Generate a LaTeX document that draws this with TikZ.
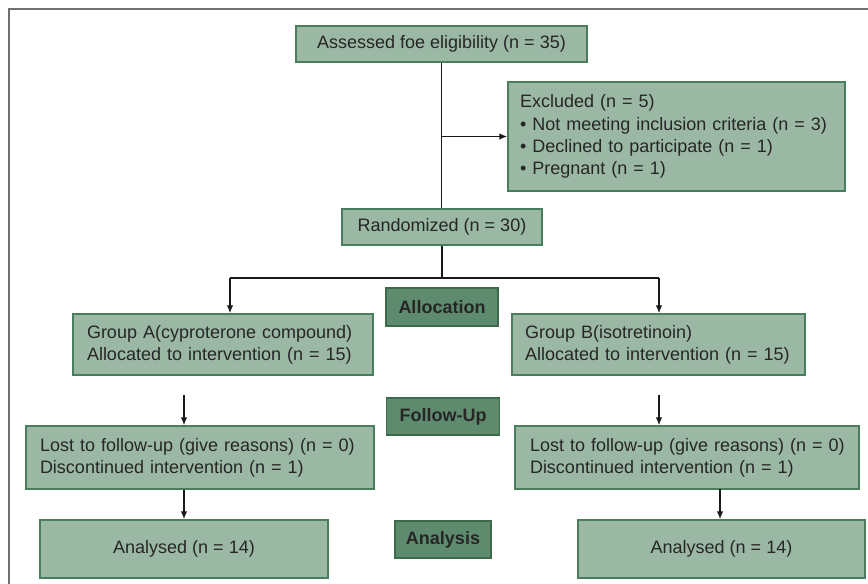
\documentclass[tikz,border=0pt]{standalone}
\usepackage{fontspec}
\setmainfont{Liberation Sans}
\usetikzlibrary{arrows.meta}
\definecolor{boxfill}{HTML}{9BB8A5}
\definecolor{boxline}{HTML}{4A7D5B}
\definecolor{labfill}{HTML}{5E8B6E}
\definecolor{labline}{HTML}{3C6A4B}
\definecolor{frame}{HTML}{707070}
\tikzset{
  box/.style={draw=boxline, fill=boxfill, line width=1.2pt, inner sep=0pt,
    font=\fontsize{18}{22.3}\selectfont, text=black!85},
  lbox/.style={box, align=left},
  cbox/.style={box, align=center},
  stage/.style={draw=labline, fill=labfill, line width=1.2pt, inner sep=0pt,
    font=\fontsize{18}{22}\selectfont\bfseries, text=black!85},
  conn/.style={line width=1.8pt, black!90},
  arr/.style={conn, -{Latex[length=8pt,width=6.5pt]}},
}
\begin{document}
\begin{tikzpicture}[x=1pt,y=-1pt]
\useasboundingbox (0,0) rectangle (868,584);
\draw[frame, line width=2pt] (9,584) -- (9,9) -- (868,9);

\node[cbox, minimum width=291pt, minimum height=36pt] (assess) at (441.5,44) {Assessed foe eligibility (n = 35)};
\node[lbox, minimum width=337pt, minimum height=109pt, text width=313pt] (excl) at (676.5,136.5)
  {Excluded (n = 5)\\ • Not meeting inclusion criteria (n = 3)\\ • Declined to participate (n = 1)\\ • Pregnant (n = 1)};
\node[cbox, minimum width=200pt, minimum height=36pt] (rand) at (442,227) {Randomized (n = 30)};
\node[stage, minimum width=112pt, minimum height=38pt] (alloc) at (442,307) {Allocation};
\node[lbox, minimum width=300pt, minimum height=61pt, text width=272pt] (grpA) at (223,344.5)
  {Group A(cyproterone compound)\\ Allocated to intervention (n = 15)};
\node[lbox, minimum width=293pt, minimum height=61pt, text width=267pt] (grpB) at (658.5,344.5)
  {Group B(isotretinoin)\\ Allocated to intervention (n = 15)};
\node[stage, minimum width=113pt, minimum height=37pt] (follow) at (443,416.5) {Follow-Up};
\node[lbox, minimum width=348pt, minimum height=63pt, text width=320pt] (lostA) at (200,457.5)
  {\mbox{Lost to follow-up (give reasons) (n = 0)}\\ \mbox{Discontinued intervention (n = 1)}};
\node[lbox, minimum width=344pt, minimum height=63pt, text width=314pt] (lostB) at (687,457.5)
  {\mbox{Lost to follow-up (give reasons) (n = 0)}\\ \mbox{Discontinued intervention (n = 1)}};
\node[stage, minimum width=96pt, minimum height=37pt] (analysis) at (443,539.5) {Analysis};
\node[cbox, minimum width=288pt, minimum height=58pt] (anA) at (184,549) {Analysed (n = 14)};
\node[cbox, minimum width=287pt, minimum height=58pt] (anB) at (721.5,549) {Analysed (n = 14)};

% connectors
\coordinate (jx) at (assess.south |- excl.west);
\draw[conn] (assess.south) -- (assess.south |- rand.north);
\draw[arr] (jx) -- (excl.west);
\coordinate (split) at (rand.south |- 0,278);
\coordinate (splA) at (230,278);
\coordinate (splB) at (659,278);
\draw[conn] (rand.south) -- (split);
\draw[conn] (splA) -- (splB);
\draw[arr] (splA) -- (splA |- grpA.north);
\draw[arr] (splB) -- (splB |- grpB.north);
\coordinate (fA) at (184,395);
\coordinate (fB) at (659,395);
\draw[arr] (fA) -- (fA |- lostA.north);
\draw[arr] (fB) -- (fB |- lostB.north);
\draw[arr] (anA.north |- lostA.south) -- (anA.north);
\coordinate (lBs) at (720,489);
\draw[arr] (lBs) -- (lBs |- anB.north);
\end{tikzpicture}
\end{document}
